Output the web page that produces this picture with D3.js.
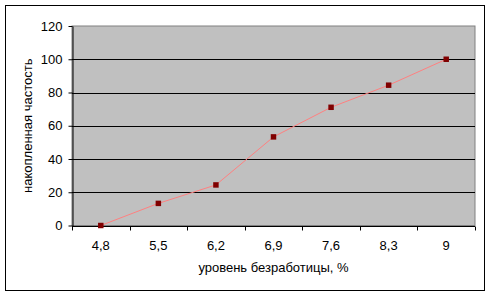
<!DOCTYPE html>
<html>
<head>
<meta charset="utf-8">
<script src="https://cdn.jsdelivr.net/npm/d3@7"></script>
<style>
  body { margin: 0; background: #fff; }
  text { font-family: "Liberation Sans", Arial, sans-serif; }
</style>
</head>
<body>
<svg id="chart" width="491" height="296"></svg>
<script>
var categories = ["4,8", "5,5", "6,2", "6,9", "7,6", "8,3", "9"];
var values = [0, 13.3, 24.4, 53.3, 71.1, 84.4, 100];
var yTicks = [0, 20, 40, 60, 80, 100, 120];
var xTitle = "уровень безработицы, %";
var yTitle = "накопленная частость";

var data = categories.map(function(c, i) { return {cat: c, value: values[i]}; });

var svg = d3.select("#chart"),
    margin = {top: 26, right: 16, bottom: 70.5, left: 72},
    width = +svg.attr("width") - margin.left - margin.right,
    height = +svg.attr("height") - margin.top - margin.bottom;

// outer chart border
svg.append("rect")
    .attr("x", 5.5).attr("y", 5.5)
    .attr("width", 479).attr("height", 285)
    .attr("fill", "#fff")
    .attr("stroke", "#000");

var g = svg.append("g").attr("transform", "translate(" + margin.left + "," + margin.top + ")");

var x = d3.scaleBand()
    .domain(categories)
    .range([0, width])
    .padding(0);

var y = d3.scaleLinear()
    .domain([0, 120])
    .range([height, 0]);

// plot area
g.append("rect")
    .attr("x", 0).attr("y", 0)
    .attr("width", width).attr("height", height)
    .attr("fill", "#c0c0c0")
    .attr("stroke", "#808080");

// gridlines
g.selectAll(".grid")
    .data(yTicks.filter(function(d) { return d > 0 && d < 120; }))
  .enter().append("line")
    .attr("x1", 0).attr("x2", width)
    .attr("y1", function(d) { return Math.round(y(d)) + 0.5; })
    .attr("y2", function(d) { return Math.round(y(d)) + 0.5; })
    .attr("stroke", "#000")
    .attr("stroke-width", 1);

// y axis
var yAxis = g.append("g")
    .attr("transform", "translate(0.5,0)")
    .call(d3.axisLeft(y).tickValues(yTicks).tickSize(4).tickPadding(6).tickSizeOuter(0));
yAxis.selectAll("line, path").attr("stroke", "#000");
yAxis.selectAll("text").attr("font-size", "13px").attr("fill", "#000")
    .attr("font-family", "Liberation Sans, Arial, sans-serif");

// x axis (ticks at category boundaries)
var xAxis = g.append("g")
    .attr("transform", "translate(0," + (Math.round(height) + 0.5) + ")");
xAxis.append("line")
    .attr("x1", 0).attr("x2", width)
    .attr("stroke", "#000");
var bounds = categories.map(function(c) { return x(c); }).concat([width]);
xAxis.selectAll(".tick")
    .data(bounds)
  .enter().append("line")
    .attr("x1", function(d) { return Math.round(d) + 0.5; })
    .attr("x2", function(d) { return Math.round(d) + 0.5; })
    .attr("y1", 0).attr("y2", 4)
    .attr("stroke", "#000");
xAxis.selectAll(".lbl")
    .data(categories)
  .enter().append("text")
    .attr("x", function(d) { return x(d) + x.bandwidth() / 2; })
    .attr("y", 23)
    .attr("text-anchor", "middle")
    .attr("font-size", "13px")
    .attr("fill", "#000")
    .text(function(d) { return d; });

// line
var line = d3.line()
    .x(function(d) { return x(d.cat) + x.bandwidth() / 2; })
    .y(function(d) { return y(d.value); });

g.append("path")
    .datum(data)
    .attr("fill", "none")
    .attr("stroke", "#ff8080")
    .attr("stroke-width", 1)
    .attr("d", line);

// markers
g.selectAll(".pt")
    .data(data)
  .enter().append("path")
    .attr("transform", function(d) {
      return "translate(" + (x(d.cat) + x.bandwidth() / 2) + "," + y(d.value) + ")";
    })
    .attr("d", d3.symbol().type(d3.symbolSquare).size(30))
    .attr("fill", "#800000");

// axis titles
svg.append("text")
    .attr("x", margin.left + width / 2)
    .attr("y", 272)
    .attr("text-anchor", "middle")
    .attr("font-size", "13px")
    .attr("fill", "#000")
    .text(xTitle);

svg.append("text")
    .attr("transform", "translate(32," + (margin.top + height / 2) + ") rotate(-90)")
    .attr("text-anchor", "middle")
    .attr("font-size", "13px")
    .attr("fill", "#000")
    .text(yTitle);
</script>
</body>
</html>
